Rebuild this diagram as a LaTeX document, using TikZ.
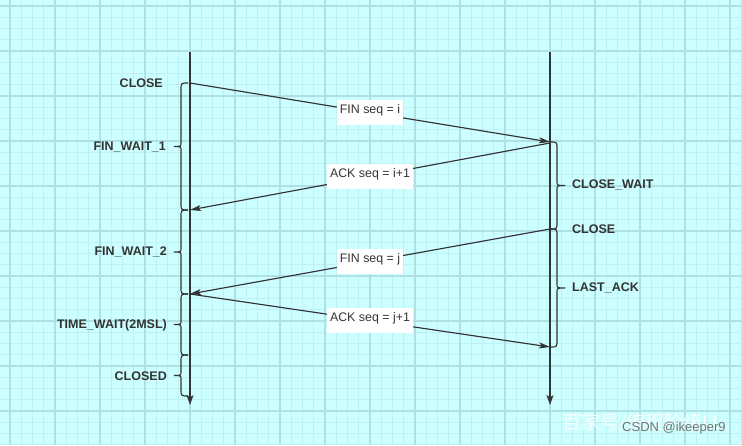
\documentclass[tikz,border=0pt]{standalone}
\usepackage{fontspec}
\setmainfont{Liberation Sans}
\newfontfamily\cjkfont{Noto Sans CJK SC}
\usetikzlibrary{arrows.meta}
\definecolor{bgc}{HTML}{CCFFFF}
\definecolor{minorc}{HTML}{C0F0F2}
\definecolor{majorc}{HTML}{AEE0E4}
\definecolor{ink}{HTML}{333333}
\newcommand\leftbr[3]{%
  \pgfmathsetmacro\ym{(#2+#3)/2}%
  \draw[brc] ({#1-2},#2) .. controls ({#1-9},#2) .. ({#1-9},{#2+7}) -- ({#1-9},{\ym-4})
    .. controls ({#1-9},\ym) .. ({#1-16},\ym) .. controls ({#1-9},\ym) .. ({#1-9},{\ym+4})
    -- ({#1-9},{#3-7}) .. controls ({#1-9},#3) .. ({#1-2},#3);}
\newcommand\rightbr[3]{%
  \pgfmathsetmacro\ym{(#2+#3)/2}%
  \draw[brc] ({#1+1},#2) .. controls ({#1+7},#2) .. ({#1+7},{#2+7}) -- ({#1+7},{\ym-4})
    .. controls ({#1+7},\ym) .. ({#1+15},\ym) .. controls ({#1+7},\ym) .. ({#1+7},{\ym+4})
    -- ({#1+7},{#3-7}) .. controls ({#1+7},#3) .. ({#1+1},#3);}
\begin{document}
\begin{tikzpicture}[x=1pt,y=-1pt,
  life/.style={draw=ink,line width=1.15pt,-{Stealth[length=10pt,width=7pt,inset=2.5pt]}},
  msg/.style={draw=ink,line width=1.15pt,-{Stealth[length=11pt,width=6pt,inset=2.5pt]}},
  brc/.style={draw=ink,line width=1.15pt},
  stl/.style={text=ink,font=\bfseries\fontsize{12.5}{14}\selectfont,inner sep=0pt},
  lbl/.style={fill=white,text=ink,font=\fontsize{12.4}{14}\selectfont,inner xsep=3pt,inner ysep=3pt,text height=10pt,text depth=9pt,pos=0.5}]
\useasboundingbox (0,0) rectangle (742,445);
\fill[bgc] (0,0) rectangle (742,445);
\begin{scope}
\clip (0,0) rectangle (742,445);
\foreach \k in {-1,...,65} {\pgfmathsetmacro\xx{10+11.25*\k}\draw[minorc,line width=0.8pt] (\xx,0) -- (\xx,445);}
\foreach \k in {0,...,39} {\pgfmathsetmacro\yy{6+11.25*\k}\draw[minorc,line width=0.8pt] (0,\yy) -- (742,\yy);}
\foreach \k in {0,...,16} {\pgfmathsetmacro\xx{10+45*\k}\draw[majorc,line width=1.1pt] (\xx,0) -- (\xx,445);}
\foreach \k in {0,...,9} {\pgfmathsetmacro\yy{6+45*\k}\draw[majorc,line width=1.1pt] (0,\yy) -- (742,\yy);}
\end{scope}
% lifelines
\coordinate (Ltop) at (190,52);
\coordinate (Lbot) at (190,405);
\coordinate (Rtop) at (550,52);
\coordinate (Rbot) at (550,405);
\draw[life] (Ltop) -- (Lbot);
\draw[life] (Rtop) -- (Rbot);
% event points
\coordinate (a1) at (190,83);
\coordinate (b1) at (550,142);
\coordinate (b2) at (550,143);
\coordinate (a2) at (190,210);
\coordinate (b3) at (550,229);
\coordinate (a3) at (190,294);
\coordinate (b4) at (550,347);
% braces
\leftbr{190}{83}{210}
\leftbr{190}{210}{294}
\leftbr{190}{294}{355}
\leftbr{190}{355}{396}
\rightbr{550}{142}{229}
\rightbr{550}{229}{347}
% messages
\draw[msg] (a1) -- node[lbl] (m1) {FIN seq = i} (b1);
\draw[msg] (b2) -- node[lbl] (m2) {ACK seq = i+1} (a2);
\draw[msg] (b3) -- node[lbl] (m3) {FIN seq = j} (a3);
\draw[msg] (a3) -- node[lbl] (m4) {ACK seq = j+1} (b4);
% state labels
\node[stl,anchor=east] (s1) at (163,83) {CLOSE};
\node[stl,anchor=east] (s2) at (166,147) {FIN\_WAIT\_1};
\node[stl,anchor=east] (s3) at (167,252) {FIN\_WAIT\_2};
\node[stl,anchor=east] (s4) at (167,325) {TIME\_WAIT(2MSL)};
\node[stl,anchor=east] (s5) at (167,376) {CLOSED};
\node[stl,anchor=west] (r1) at (572,185) {CLOSE\_WAIT};
\node[stl,anchor=west] (r2) at (572,229) {CLOSE};
\node[stl,anchor=west] (r3) at (572,288) {LAST\_ACK};
% watermark
\node[anchor=west,text=white,opacity=0.85,inner sep=0pt,font=\cjkfont\fontsize{19}{20}\selectfont] (wm) at (562,423) {百家号/编程阶级LL};
\node[anchor=west,text=black!55,inner sep=0pt,font=\fontsize{13}{14}\selectfont] (csdn) at (622,428) {CSDN @ikeeper9};
\end{tikzpicture}
\end{document}
